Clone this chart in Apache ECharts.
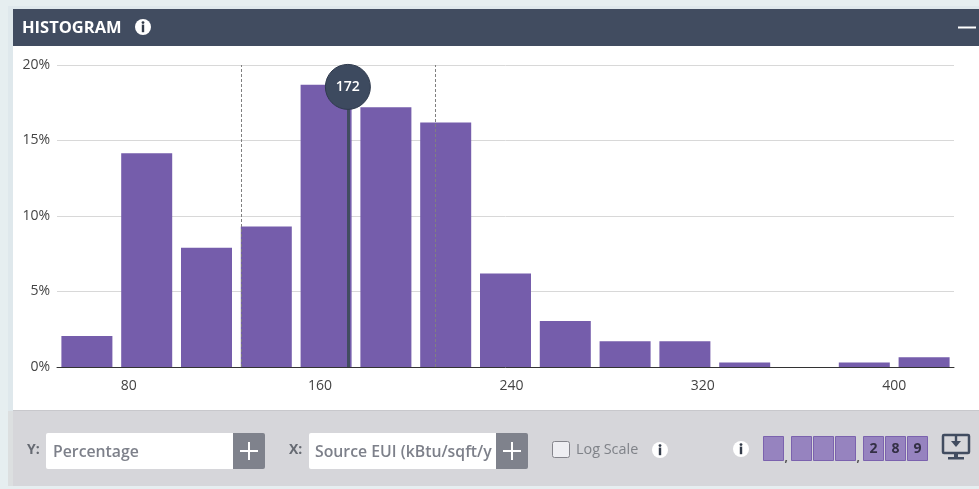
<!DOCTYPE html>
<html><head><meta charset="utf-8">
<style>html,body{margin:0;padding:0;background:#e6eef0;overflow:hidden}#c{width:979px;height:489px}</style>
<script src="https://cdn.jsdelivr.net/npm/echarts@6/dist/echarts.min.js"></script>
</head><body><div id="c"></div>
<script>
const binCenters = [62.5,87.5,112.5,137.5,162.5,187.5,212.5,237.5,262.5,287.5,312.5,337.5,362.5,387.5,412.5];
const percentages = [2.05,14.15,7.9,9.3,18.7,17.2,16.2,6.2,3.05,1.7,1.7,0.3,0,0.3,0.65];
const xTickLabels = [80,160,240,320,400];
const dashedMarkers = [127,208];
const medianMarker = 171.6;
const medianText = '172';
const medianLabelY = 18.55;
const yLabels = ['0%','5%','10%','15%','20%'];
const title = 'HISTOGRAM';
const yField = 'Percentage';
const xField = 'Source EUI (kBtu/sqft/y';
const logLabel = 'Log Scale';
const countDigits = ['','','','','2','8','9'];

const font = '"Open Sans"';
const infoIcon = (cx, cy, r) => [
  {type:'circle',shape:{cx,cy,r},style:{fill:'#fff'}},
  {type:'rect',shape:{x:cx-1.2,y:cy-r*0.3,width:2.4,height:r*0.95},style:{fill:'#333b49'}},
  {type:'circle',shape:{cx,cy:cy-r*0.55,r:1.4},style:{fill:'#333b49'}}
];
const plusIcon = (cx, cy) => [
  {type:'rect',shape:{x:cx-9,y:cy-1,width:18,height:2},style:{fill:'#fff'}},
  {type:'rect',shape:{x:cx-1,y:cy-9,width:2,height:18},style:{fill:'#fff'}}
];
const boxXs = [763,791,813,835,863,885,907];
const boxes = [];
boxXs.forEach((x,i)=>{
  boxes.push({type:'rect',shape:{x:x+.5,y:436.5,width:20,height:24},style:{fill:'#9683bf',stroke:'#7b62ae',lineWidth:1}});
  if(countDigits[i]) boxes.push({type:'text',style:{x:x+10.5,y:449,text:countDigits[i],align:'center',verticalAlign:'middle',font:'bold 14px '+font,fill:'#332f45'}});
});
const graphics = [
  {type:'rect',shape:{x:8,y:6,width:971,height:405},style:{fill:'#dfe8ec'}},
  {type:'rect',shape:{x:8,y:411,width:971,height:75},style:{fill:'#dcdfe0'}},
  {type:'rect',shape:{x:13,y:46,width:966,height:365},style:{fill:'#fff'}},
  {type:'rect',shape:{x:13,y:9,width:966,height:37},style:{fill:'#414c60'}},
  {type:'text',style:{x:22,y:28,text:title,verticalAlign:'middle',font:'bold 16.5px '+font,fill:'#fff'}},
  ...infoIcon(143,27,8),
  {type:'rect',shape:{x:958,y:26.5,width:18,height:2},style:{fill:'#fff'}},
  {type:'rect',shape:{x:13,y:411,width:966,height:75},style:{fill:'#d6d6da'}},
  {type:'rect',shape:{x:13,y:410,width:966,height:1},style:{fill:'#c8c8cc'}},
  {type:'text',style:{x:27,y:450,text:'Y:',verticalAlign:'middle',font:'bold 14px '+font,fill:'#666a72'}},
  {type:'rect',shape:{x:46,y:433,width:187,height:36,r:[2,0,0,2]},style:{fill:'#fff'}},
  {type:'rect',shape:{x:233,y:433,width:32,height:36,r:[0,2,2,0]},style:{fill:'#7f828c'}},
  {type:'text',style:{x:53,y:452,text:yField,verticalAlign:'middle',font:'600 15.8px '+font,fill:'#7d808a'}},
  ...plusIcon(249,451),
  {type:'text',style:{x:289,y:450,text:'X:',verticalAlign:'middle',font:'bold 14px '+font,fill:'#666a72'}},
  {type:'rect',shape:{x:309,y:433,width:187,height:36,r:[2,0,0,2]},style:{fill:'#fff'}},
  {type:'text',style:{x:315,y:452,text:xField,verticalAlign:'middle',font:'600 15.8px '+font,fill:'#7d808a'}},
  {type:'rect',shape:{x:496,y:433,width:32,height:36,r:[0,2,2,0]},style:{fill:'#7f828c'}},
  ...plusIcon(512,451),
  {type:'rect',shape:{x:552.5,y:441.5,width:17,height:16,r:2},style:{fill:'#eeeef2',stroke:'#85858c',lineWidth:1}},
  {type:'text',style:{x:576,y:450,text:logLabel,verticalAlign:'middle',font:'14.4px '+font,fill:'#7f8288'}},
  ...infoIcon(660,450,8),
  ...infoIcon(741,449,8),
  ...boxes,
  {type:'text',style:{x:784.5,y:452,text:',',font:'bold 12px '+font,fill:'#555'}},
  {type:'text',style:{x:856.5,y:452,text:',',font:'bold 12px '+font,fill:'#555'}},
  {type:'rect',shape:{x:943,y:435,width:26,height:18,r:1},style:{fill:'none',stroke:'#414c60',lineWidth:2.5}},
  {type:'rect',shape:{x:954,y:453,width:4,height:4},style:{fill:'#414c60'}},
  {type:'rect',shape:{x:948,y:457,width:16,height:2.5},style:{fill:'#414c60'}},
  {type:'polygon',shape:{points:[[951,441],[961,441],[956,447]]},style:{fill:'#414c60'}},
  {type:'rect',shape:{x:954.8,y:434,width:2.4,height:8},style:{fill:'#414c60'}}
];
const chart = echarts.init(document.getElementById('c'),null,{renderer:'canvas'});
chart.setOption({
  animation:false,
  graphic:{elements:graphics.map(g=>({...g,z:-10,silent:true}))},
  grid:{left:57,right:25,top:65,bottom:122},
  xAxis:{type:'value',min:50,max:425,interval:10,splitLine:{show:false},
    axisLine:{show:true,onZero:false,lineStyle:{color:'#333',width:1}},axisTick:{show:false},
    axisLabel:{margin:12,color:'#444',fontSize:14,fontFamily:font,
      formatter:(v)=>xTickLabels.includes(v)?String(v):''}},
  yAxis:{type:'value',min:0,max:20,interval:5,axisLine:{show:false},axisTick:{show:false},
    splitLine:{lineStyle:{color:'#d8d8d8',width:1}},
    axisLabel:{margin:7,color:'#444',fontSize:14,fontFamily:font,formatter:(v)=>yLabels[v/5]}},
  series:[{type:'bar',barWidth:51,itemStyle:{color:'#755dab'},
    data:binCenters.map((c,i)=>[c,percentages[i]]),
    markLine:{silent:true,symbol:'none',label:{show:false},animation:false,z:5,
      data:[
        ...dashedMarkers.map(v=>({xAxis:v,lineStyle:{type:[3,2],color:'#808080',width:1,opacity:1}})),
        [{coord:[medianMarker,0],lineStyle:{type:'solid',color:'#414c60',width:3}},{coord:[medianMarker,medianLabelY]}]
      ]},
    markPoint:{silent:true,animation:false,symbol:'circle',symbolSize:45,z:6,
      itemStyle:{color:'#3d4a5f',borderColor:'#2f3a4d',borderWidth:1},
      label:{show:true,color:'#fff',fontSize:14,fontWeight:600,fontFamily:font,formatter:medianText},
      data:[{coord:[medianMarker,medianLabelY]}]}
  }]
});
</script></body></html>
